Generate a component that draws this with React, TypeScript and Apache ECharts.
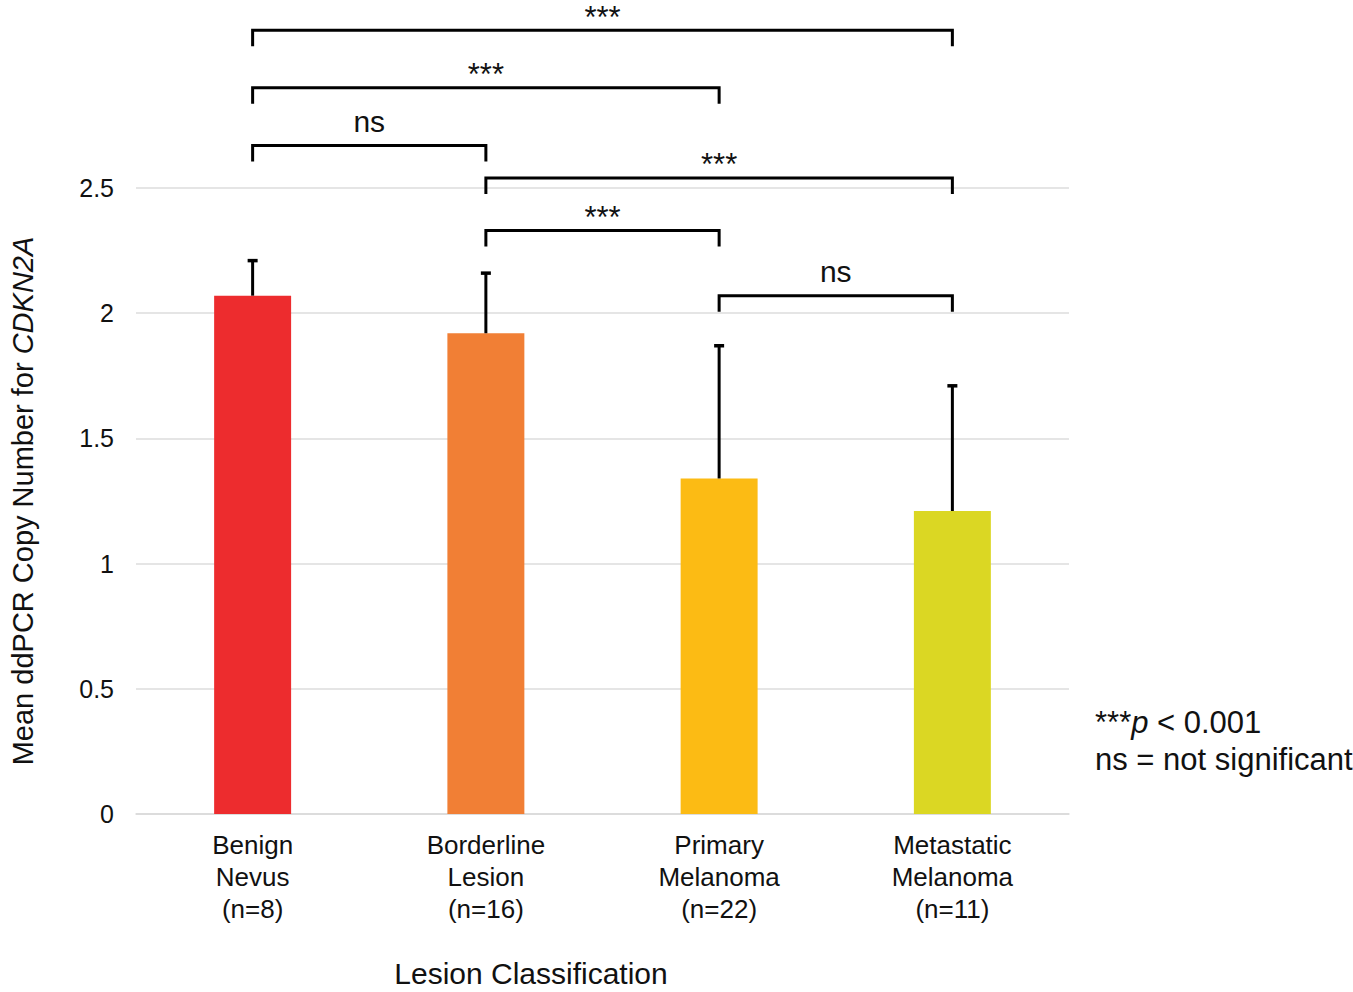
import React, { useEffect, useRef } from "react";
import * as echarts from "echarts";

const categories = [
  "Benign\nNevus\n(n=8)",
  "Borderline\nLesion\n(n=16)",
  "Primary\nMelanoma\n(n=22)",
  "Metastatic\nMelanoma\n(n=11)",
];
const means = [2.07, 1.92, 1.34, 1.21];
const errorsUp = [0.14, 0.24, 0.53, 0.5];
const barColors = ["#ED2C2E", "#F17F35", "#FCBB14", "#DBD723"];

// comparison brackets: from index, to index, bracket height (value units)
const compFrom = [0, 0, 0, 1, 1, 2];
const compTo = [3, 2, 1, 3, 2, 3];
const compY = [3.13, 2.9, 2.67, 2.54, 2.33, 2.07];
const compLabels = ["***", "***", "ns", "***", "***", "ns"];

const yTicks = { min: 0, max: 2.5, interval: 0.5 };

const FONT = "'Liberation Sans', Arial, Helvetica, sans-serif";
const INK = "#111111";

export default function App() {
  const ref = useRef<HTMLDivElement>(null);

  useEffect(() => {
    if (!ref.current) return;
    const chart = echarts.init(ref.current, null, { renderer: "svg" });

    const errData = means.map((m, i) => [i, m, errorsUp[i]]);
    const compData = compFrom.map((f, i) => [f, compTo[i], compY[i]]);

    const option: any = {
      animation: false,
      backgroundColor: "#ffffff",
      textStyle: { fontFamily: FONT },
      grid: { left: 129, right: 284, top: 188, bottom: 178, containLabel: false },
      xAxis: {
        type: "category",
        data: categories,
        axisLine: { show: true, lineStyle: { color: "#d9d9d9", width: 1.5 } },
        axisTick: { show: false },
        axisLabel: {
          color: INK,
          fontSize: 26,
          lineHeight: 32,
          margin: 15,
          fontFamily: FONT,
          interval: 0,
        },
      },
      yAxis: {
        type: "value",
        min: yTicks.min,
        max: yTicks.max,
        interval: yTicks.interval,
        axisLine: { show: false },
        axisTick: { show: false },
        axisLabel: { color: INK, fontSize: 25, margin: 22, fontFamily: FONT },
        splitLine: { show: true, lineStyle: { color: "#dcdcdc", width: 1.5 } },
        name: "{a|Mean ddPCR Copy Number for }{b|CDKN2A}",
        nameLocation: "middle",
        nameGap: 99,
        nameRotate: 90,
        nameTextStyle: {
          rich: {
            a: { fontSize: 29, color: INK, fontFamily: FONT },
            b: { fontSize: 29, color: INK, fontStyle: "italic", fontFamily: FONT },
          },
        },
      },
      graphic: [
        {
          type: "text",
          x: 531,
          y: 973,
          style: {
            text: "Lesion Classification",
            fontSize: 30,
            fill: INK,
            fontFamily: FONT,
            align: "center",
            verticalAlign: "middle",
          },
        },
        {
          type: "text",
          x: 1095,
          y: 722,
          style: {
            text: "{s|***}{p|p}{r| < 0.001}",
            verticalAlign: "middle",
            rich: {
              s: { fontSize: 31, fill: INK, fontFamily: FONT },
              p: { fontSize: 31, fill: INK, fontStyle: "italic", fontFamily: FONT },
              r: { fontSize: 31, fill: INK, fontFamily: FONT },
            },
          },
        },
        {
          type: "text",
          x: 1095,
          y: 759,
          style: {
            text: "ns = not significant",
            fontSize: 31,
            fill: INK,
            fontFamily: FONT,
            verticalAlign: "middle",
          },
        },
      ],
      series: [
        {
          type: "bar",
          barWidth: "33%",
          data: means.map((v, i) => ({ value: v, itemStyle: { color: barColors[i] } })),
          z: 2,
        },
        {
          type: "custom",
          z: 3,
          clip: false,
          data: errData,
          renderItem: (params: any, api: any) => {
            const x = api.value(0);
            const m = api.value(1);
            const e = api.value(2);
            const base = api.coord([x, m]);
            const top = api.coord([x, m + e]);
            return {
              type: "group",
              children: [
                {
                  type: "line",
                  shape: { x1: base[0], y1: base[1], x2: top[0], y2: top[1] },
                  style: { stroke: "#000", lineWidth: 3 },
                },
                {
                  type: "line",
                  shape: { x1: top[0] - 5, y1: top[1], x2: top[0] + 5, y2: top[1] },
                  style: { stroke: "#000", lineWidth: 3.5 },
                },
              ],
            };
          },
        },
        {
          type: "custom",
          z: 4,
          clip: false,
          data: compData,
          renderItem: (params: any, api: any) => {
            const a = api.coord([api.value(0), api.value(2)]);
            const b = api.coord([api.value(1), api.value(2)]);
            const leg = 16;
            const label = compLabels[params.dataIndex];
            const isStars = label === "***";
            return {
              type: "group",
              children: [
                {
                  type: "polyline",
                  shape: {
                    points: [
                      [a[0], a[1] + leg],
                      [a[0], a[1]],
                      [b[0], b[1]],
                      [b[0], b[1] + leg],
                    ],
                  },
                  style: { stroke: "#000", lineWidth: 3, fill: "none" },
                },
                {
                  type: "text",
                  x: (a[0] + b[0]) / 2,
                  y: isStars ? a[1] - 13 : a[1] - 7,
                  style: {
                    text: label,
                    fontSize: isStars ? 31 : 30,
                    lineHeight: isStars ? 28 : 34,
                    fill: INK,
                    fontFamily: FONT,
                    align: "center",
                    verticalAlign: isStars ? "middle" : "bottom",
                  },
                },
              ],
            };
          },
        },
      ],
    };

    chart.setOption(option);
    return () => chart.dispose();
  }, []);

  return (
    <div
      ref={ref}
      style={{ position: "fixed", left: 0, top: 0, width: 1353, height: 992, background: "#fff" }}
    />
  );
}
